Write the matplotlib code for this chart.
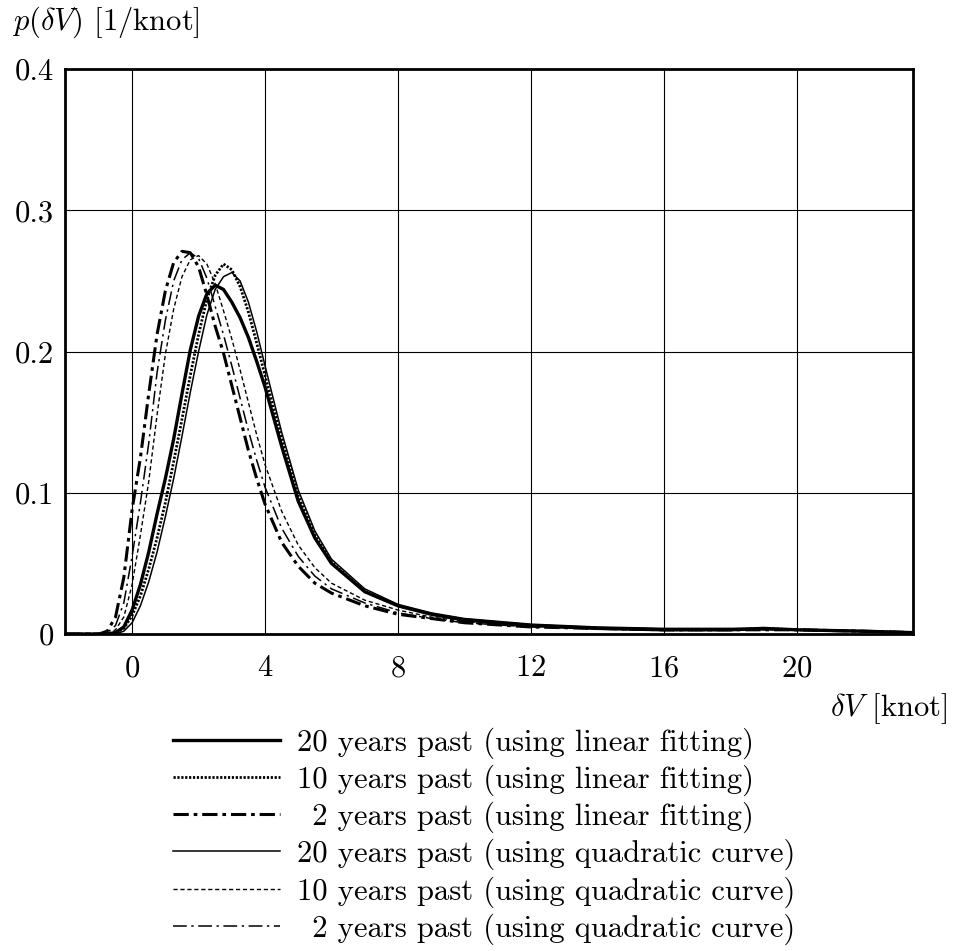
import numpy as np
import matplotlib.pyplot as plt

plt.rcParams['font.family'] = ['cmr10', 'DejaVu Serif']
plt.rcParams['mathtext.fontset'] = 'cm'
plt.rcParams['axes.formatter.use_mathtext'] = True

# wind speed deviation grid [knot]
dv = [-2.0, -1.0, -0.75, -0.5, -0.25, 0.0, 0.25, 0.5, 0.75, 1.0, 1.25, 1.5, 1.75,
      2.0, 2.25, 2.5, 2.75, 3.0, 3.25, 3.5, 3.75, 4.0, 4.5, 5.0, 5.5, 6.0, 7.0,
      8.0, 9.0, 10.0, 12.0, 14.0, 16.0, 18.0, 19.0, 20.0, 22.0, 23.5]

# probability density p(dV) [1/knot]
p20_lin = [0, 0, 0, 0.001, 0.005, 0.017, 0.035, 0.058, 0.085, 0.110, 0.138, 0.170, 0.201,
           0.225, 0.241, 0.247, 0.244, 0.235, 0.224, 0.210, 0.193, 0.175, 0.133, 0.094, 0.068,
           0.050, 0.030, 0.020, 0.014, 0.010, 0.006, 0.004, 0.003, 0.003, 0.004, 0.003, 0.002, 0.001]
p10_lin = [0, 0, 0, 0.001, 0.004, 0.013, 0.027, 0.046, 0.068, 0.093, 0.122, 0.152, 0.183,
           0.212, 0.237, 0.254, 0.262, 0.258, 0.246, 0.228, 0.206, 0.183, 0.138, 0.098, 0.070,
           0.051, 0.030, 0.020, 0.014, 0.010, 0.006, 0.004, 0.003, 0.003, 0.004, 0.003, 0.002, 0.001]
p2_lin = [0, 0, 0.002, 0.012, 0.040, 0.088, 0.125, 0.170, 0.212, 0.243, 0.263, 0.271, 0.270,
          0.260, 0.240, 0.218, 0.199, 0.176, 0.153, 0.130, 0.110, 0.092, 0.065, 0.048, 0.036,
          0.029, 0.020, 0.014, 0.011, 0.008, 0.005, 0.004, 0.003, 0.003, 0.003, 0.003, 0.002, 0.001]
p20_quad = [0, 0, 0, 0, 0.002, 0.008, 0.020, 0.037, 0.058, 0.083, 0.110, 0.140, 0.171,
            0.200, 0.226, 0.244, 0.253, 0.256, 0.250, 0.235, 0.214, 0.190, 0.143, 0.102, 0.073,
            0.053, 0.032, 0.021, 0.015, 0.011, 0.007, 0.005, 0.004, 0.004, 0.004, 0.003, 0.002, 0.001]
p10_quad = [0, 0, 0, 0.003, 0.012, 0.035, 0.070, 0.108, 0.155, 0.198, 0.230, 0.253, 0.265,
            0.268, 0.262, 0.248, 0.229, 0.209, 0.187, 0.164, 0.141, 0.120, 0.087, 0.063, 0.047,
            0.036, 0.024, 0.017, 0.012, 0.009, 0.006, 0.004, 0.003, 0.003, 0.003, 0.003, 0.002, 0.001]
p2_quad = [0, 0, 0.001, 0.006, 0.022, 0.055, 0.093, 0.135, 0.185, 0.222, 0.250, 0.265, 0.270,
           0.266, 0.252, 0.232, 0.212, 0.190, 0.167, 0.144, 0.123, 0.104, 0.075, 0.055, 0.041,
           0.032, 0.022, 0.015, 0.011, 0.008, 0.005, 0.004, 0.003, 0.003, 0.003, 0.003, 0.002, 0.001]

labels = ["20 years past (using linear fitting)",
          "10 years past (using linear fitting)",
          "\u20022 years past (using linear fitting)",
          "20 years past (using quadratic curve)",
          "10 years past (using quadratic curve)",
          "\u20022 years past (using quadratic curve)"]

fig = plt.figure(figsize=(9.6, 9.51), dpi=100)
ax = fig.add_axes([0.0677, 0.3333, 0.8833, 0.594])

ax.plot(dv, p20_lin, color='black', lw=2.4, ls='-', label=labels[0])
ax.plot(dv, p10_lin, color='black', lw=2.0, ls=(0, (0.8, 0.6)), label=labels[1])
ax.plot(dv, p2_lin, color='black', lw=2.2, ls=(0, (5, 1.6, 1.2, 1.6)), label=labels[2])
ax.plot(dv, p20_quad, color='black', lw=1.1, ls='-', label=labels[3])
ax.plot(dv, p10_quad, color='black', lw=1.0, ls=(0, (3, 2)), label=labels[4])
ax.plot(dv, p2_quad, color='black', lw=1.1, ls=(0, (9, 3, 1.5, 3)), label=labels[5])

ax.set_xlim(-2.02, 23.5)
ax.set_ylim(0, 0.4)
ax.set_xticks([0, 4, 8, 12, 16, 20])
ax.set_yticks([0, 0.1, 0.2, 0.3, 0.4])
ax.set_yticklabels(['0', '0.1', '0.2', '0.3', '0.4'])
ax.tick_params(length=0, labelsize=22)
ax.tick_params(axis='y', pad=8)
ax.tick_params(axis='x', pad=15)
ax.grid(True, color='black', lw=0.8)
for s in ax.spines.values():
    s.set_linewidth(2.0)

fig.text(0.012, 0.977, r'$p(\delta V)$ [1/knot]', fontsize=22, ha='left', va='center')
fig.text(0.987, 0.255, r'$\delta V$ [knot]', fontsize=22, ha='right', va='center')

fig.legend(loc='upper left', bbox_to_anchor=(0.180, 0.2355), frameon=False,
           fontsize=22, handlelength=3.5, handletextpad=0.55, labelspacing=0.19,
           borderpad=0, borderaxespad=0)

fig.savefig('out.png', dpi=100)
